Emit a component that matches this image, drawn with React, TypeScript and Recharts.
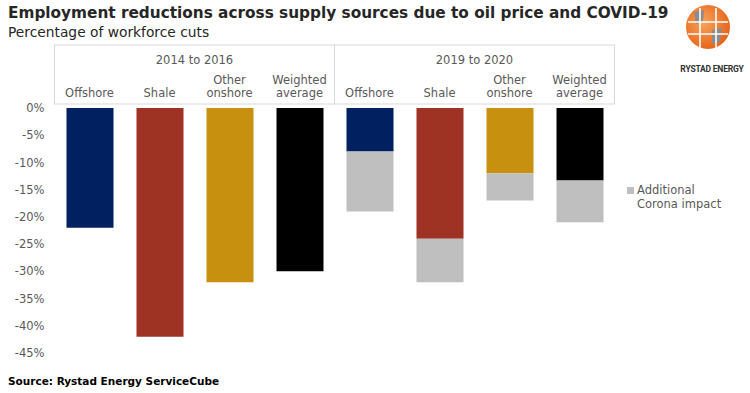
import React from 'react';
import { BarChart, Bar, XAxis, YAxis, Cell } from 'recharts';

const categories = ['Offshore', 'Shale', 'Other onshore', 'Weighted average', 'Offshore', 'Shale', 'Other onshore', 'Weighted average'];
const periods = ['2014 to 2016', '2019 to 2020'];
const baseCuts = [-22, -42, -32, -30, -8, -24, -12, -13.3];
const coronaCuts = [0, 0, 0, 0, -11, -8, -5, -7.7];
const yTicks = [0, -5, -10, -15, -20, -25, -30, -35, -40, -45];

const barColors = ['#002060', '#9E3223', '#C8900F', '#000000', '#002060', '#9E3223', '#C8900F', '#000000'];
const coronaColor = '#BFBFBF';

const data = categories.map((c, i) => ({
  key: `${c}-${i}`,
  label: c,
  base: baseCuts[i],
  corona: coronaCuts[i],
}));

const FONT = '"DejaVu Sans", Verdana, sans-serif';

// category labels + group header box drawn from the axis scale
const HeaderTick = (props: any) => {
  const { x, index } = props;
  const label: string = categories[index];
  const lines = label.includes(' ') ? label.split(' ') : [label];
  const band = 70;
  const parts: React.ReactNode[] = [];
  if (index % 4 === 0) {
    const left = x - band / 2;
    parts.push(
      <rect key="box" x={left} y={45} width={band * 4} height={59} fill="none" stroke="#D9D9D9" strokeWidth={1} />
    );
  }
  if (index % 4 === 1) {
    parts.push(
      <text key="grp" x={x + band / 2} y={64} textAnchor="middle" fontSize={11.5} fill="#595959" fontFamily={FONT}>
        {periods[Math.floor(index / 4)]}
      </text>
    );
  }
  lines.forEach((ln, k) => {
    const y = lines.length === 1 ? 97 : 84 + k * 13;
    parts.push(
      <text key={`l${k}`} x={x} y={y} textAnchor="middle" fontSize={11.5} fill="#595959" fontFamily={FONT}>
        {ln}
      </text>
    );
  });
  return <g>{parts}</g>;
};

const LegendBox = () => (
  <div style={{ position: 'absolute', left: 627, top: 183, display: 'flex', alignItems: 'flex-start', fontFamily: FONT, fontSize: 11.5, color: '#595959', lineHeight: '14px' }}>
    <span style={{ display: 'inline-block', width: 7, height: 7, background: coronaColor, marginTop: 4, marginRight: 3 }} />
    <span>Additional<br />Corona impact</span>
  </div>
);

const Logo = () => (
  <>
    <svg width={50} height={52} style={{ position: 'absolute', left: 684, top: 2 }}>
      <defs>
        <radialGradient id="globe" cx="40%" cy="40%" r="60%">
          <stop offset="0%" stopColor="#F7A35C" />
          <stop offset="100%" stopColor="#E8661A" />
        </radialGradient>
      </defs>
      <circle cx={24} cy={25} r={22} fill="url(#globe)" />
      <path d="M10 10 L20 8 L19 20 L12 22 Z" fill="#8C8C8C" />
      <path d="M28 28 L38 26 L36 40 L28 42 Z" fill="#8C8C8C" />
      <path d="M16 6 L16 46 M32 6 L32 46 M4 20 L44 20 M4 32 L44 32" stroke="#fff" strokeWidth={1.6} />
    </svg>
    <div style={{ position: 'absolute', left: 676, top: 64, width: 72, textAlign: 'center', fontFamily: 'Roboto, sans-serif', fontWeight: 'bold', fontSize: 8.5, color: '#333', letterSpacing: -0.2, whiteSpace: 'nowrap' }}>
      RYSTAD ENERGY
    </div>
  </>
);

const App: React.FC = () => {
  return (
    <div style={{ position: 'absolute', left: 0, top: 0, width: 750, height: 393, background: '#fff', overflow: 'hidden' }}>
      <div style={{ position: 'absolute', left: 8, top: 4, fontFamily: FONT, fontWeight: 'bold', fontSize: 15.3, color: '#262626', whiteSpace: 'nowrap' }}>
        Employment reductions across supply sources due to oil price and COVID-19
      </div>
      <div style={{ position: 'absolute', left: 8, top: 24, fontFamily: FONT, fontSize: 13.8, color: '#262626', whiteSpace: 'nowrap' }}>
        Percentage of workforce cuts
      </div>
      <Logo />
      <div style={{ position: 'absolute', left: 0, top: 0 }}>
        <BarChart
          width={750}
          height={393}
          data={data}
          margin={{ top: 45, right: 135.5, bottom: 40, left: 0 }}
        >
          <XAxis
            dataKey="key"
            orientation="top"
            height={63}
            axisLine={false}
            tickLine={false}
            interval={0}
            tick={<HeaderTick />}
          />
          <YAxis
            width={54.5}
            domain={[-45, 0]}
            ticks={yTicks}
            axisLine={false}
            tickLine={false}
            tickMargin={4}
            tickFormatter={(v: number) => `${v}%`}
            tick={{ fontSize: 11.5, fill: '#595959', fontFamily: FONT }}
          />
          <Bar dataKey="base" stackId="a" barSize={47} isAnimationActive={false}>
            {data.map((d, i) => (
              <Cell key={d.key} fill={barColors[i]} />
            ))}
          </Bar>
          <Bar dataKey="corona" stackId="a" barSize={47} fill={coronaColor} isAnimationActive={false} />
        </BarChart>
      </div>
      <LegendBox />
      <div style={{ position: 'absolute', left: 8, top: 375, fontFamily: FONT, fontWeight: 'bold', fontSize: 10.5, color: '#000', whiteSpace: 'nowrap' }}>
        Source: Rystad Energy ServiceCube
      </div>
    </div>
  );
};

export default App;
